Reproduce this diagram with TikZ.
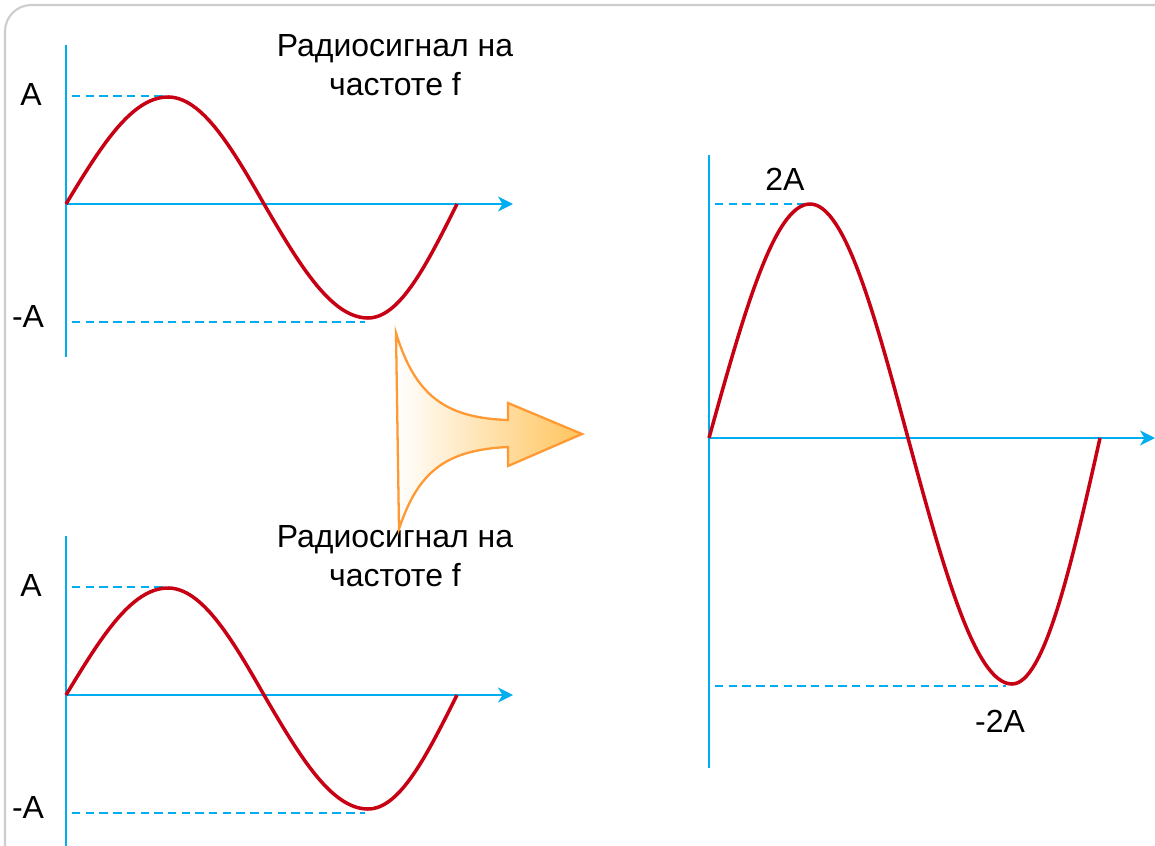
\documentclass[tikz,border=0pt]{standalone}
\usepackage{fontspec}
\setmainfont{Liberation Sans}
\usetikzlibrary{arrows.meta}
\definecolor{axisblue}{RGB}{0,174,239}
\definecolor{wavered}{RGB}{200,0,20}
\definecolor{arrline}{RGB}{255,153,51}
\definecolor{arrfill}{RGB}{255,196,92}
\definecolor{frame}{RGB}{205,205,205}
\tikzset{
  axis/.style={draw=axisblue, line width=1.4pt},
  level/.style={draw=axisblue, line width=1.3pt, dash pattern=on 4.8pt off 3pt},
  wave/.style={draw=wavered, line width=2pt},
  lbl/.style={font=\fontsize{18.2}{22}\selectfont, inner sep=0pt},
  >={Stealth[length=8.5pt,width=8.5pt,inset=2.5pt]}
}
\begin{document}
\begin{tikzpicture}[x=0.02cm, y=-0.02cm]
  \clip (0,0) rectangle (1155,845);
  \fill[white] (0,0) rectangle (1155,845);
  \draw[frame, line width=1.2pt, rounded corners=15] (5,5) rectangle (1200,900);
  % two input signals
  \foreach \dy/\s in {0/a, 491/b} {
    \begin{scope}[shift={(0,\dy)}]
      \coordinate (o\s) at (66,204);
      \coordinate (ytop\s) at (66,45);
      \coordinate (ybot\s) at (66,357);
      \coordinate (xend\s) at (513,204);
      \coordinate (pk\s) at (168,97);
      \coordinate (cr\s) at (264,204);
      \coordinate (tr\s) at (368,318);
      \coordinate (en\s) at (457,204);
      \coordinate (hi\s) at (72,96);
      \coordinate (lo\s) at (72,322);
      \coordinate (loe\s) at (365,322);
      \draw[axis] (ybot\s) -- (ytop\s);
      \draw[axis,->] (o\s) -- (xend\s);
      \draw[level] (hi\s) -- (pk\s |- hi\s);
      \draw[level] (lo\s) -- (loe\s);
      \draw[wave] (o\s) .. controls (100,148) and (131,97) .. (pk\s)
        .. controls (202,97) and (232,148) .. (cr\s)
        .. controls (299,264) and (331,318) .. (tr\s)
        .. controls (400,318) and (427,264) .. (en\s);
      \node[lbl] (lA\s) at (31,94) {A};
      \node[lbl] (lmA\s) at (28,316) {-A};
      \node[lbl, align=center] (ttl\s) at (395,65) {Радиосигнал на\\частоте f};
    \end{scope}
  }
  % summing arrow
  \draw[arrline, line width=1.3pt, left color=white, right color=arrfill]
    (396,333) .. controls (415,395) and (445,418) .. (508,420)
    -- (508,403) -- (582,434) -- (508,466) -- (508,447)
    .. controls (445,450) and (418,472) .. (399,529) -- cycle;
  % resulting signal
  \coordinate (o) at (709,438);
  \coordinate (ytop) at (709,155);
  \coordinate (ybot) at (709,768);
  \coordinate (xend) at (1155,438);
  \coordinate (pk) at (810,204);
  \coordinate (cr) at (908,438);
  \coordinate (tr) at (1012,684);
  \coordinate (en) at (1100,438);
  \coordinate (hi) at (715,204);
  \coordinate (lo) at (715,686);
  \coordinate (loe) at (1006,686);
  \draw[axis] (ybot) -- (ytop);
  \draw[axis,->] (o) -- (xend);
  \draw[level] (hi) -- (pk);
  \draw[level] (lo) -- (loe);
  \draw[wave] (o) .. controls (743,316) and (774,204) .. (pk)
    .. controls (845,204) and (875,316) .. (cr)
    .. controls (943,567) and (975,684) .. (tr)
    .. controls (1044,684) and (1071,567) .. (en);
  \node[lbl] (l2A) at (785,179) {2A};
  \node[lbl] (lm2A) at (1000,721) {-2A};
\end{tikzpicture}
\end{document}
